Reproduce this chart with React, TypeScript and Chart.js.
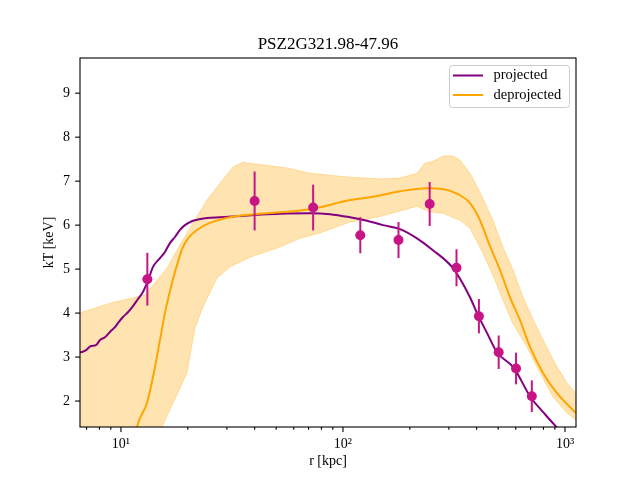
import { useEffect, useRef } from "react";
import { Chart, registerables } from "chart.js";

Chart.register(...registerables);

const TITLE = "PSZ2G321.98-47.96";
const X_TITLE = "r [kpc]";
const Y_TITLE = "kT [keV]";
const SERIES_NAMES = ["projected", "deprojected"];

// axis ranges and ticks
const X_MIN = 6.54;
const X_MAX = 1121;
const Y_MIN = 1.41;
const Y_MAX = 9.8;
const xMajorTicks = [10, 100, 1000];
const xTickLabels = ["10\u00B9", "10\u00B2", "10\u00B3"];
const yTicks = [2, 3, 4, 5, 6, 7, 8, 9];

// measured temperatures (keV) with symmetric errors
const obsR = [13.15, 40.0, 73.4, 119.7, 177.9, 245.8, 324.6, 409.5, 502.8, 602, 709];
const obsT = [4.77, 6.55, 6.4, 5.77, 5.66, 6.48, 5.03, 3.93, 3.11, 2.74, 2.11];
const obsErr = [0.6, 0.67, 0.52, 0.41, 0.41, 0.5, 0.42, 0.39, 0.38, 0.36, 0.36];

// projected model profile
const projR = [6.4, 6.6, 6.96, 7.33, 7.72, 8.05, 8.47, 8.92, 9.4, 9.69, 10.21, 10.75, 11.33, 11.93, 12.56, 13.23, 13.94, 14.99, 15.78, 16.62, 17.51, 18.44, 19.42, 20.46, 21.54, 24.4, 27.92, 34.36, 40.15, 52.0, 71.0, 87.4, 107.5, 128.3, 151.4, 180.6, 215.4, 254.3, 313.0, 373.4, 401.5, 445.3, 493.9, 589.3, 695.6, 812.7, 949.5];
const projT = [3.11, 3.11, 3.16, 3.25, 3.27, 3.39, 3.45, 3.57, 3.68, 3.77, 3.91, 4.02, 4.16, 4.32, 4.48, 4.73, 5.05, 5.25, 5.39, 5.59, 5.73, 5.89, 6.0, 6.07, 6.11, 6.16, 6.18, 6.21, 6.23, 6.26, 6.27, 6.25, 6.18, 6.1, 6.0, 5.91, 5.7, 5.43, 5.02, 4.36, 4.0, 3.55, 3.11, 2.75, 2.11, 1.7, 1.32];

// deprojected model profile
const deprojR = [11.68, 12.18, 13.09, 14.23, 14.99, 15.78, 16.97, 17.88, 18.83, 20.04, 21.99, 25.17, 30.97, 40.15, 71.0, 107.5, 139.3, 180.6, 239.0, 282.1, 336.5, 373.4, 414.2, 459.5, 509.5, 565.4, 627.1, 695.6, 796.0, 920.5, 1121, 1193];
const deprojT = [1.34, 1.61, 1.95, 2.77, 3.39, 4.0, 4.68, 5.09, 5.45, 5.7, 5.89, 6.05, 6.18, 6.25, 6.36, 6.57, 6.65, 6.77, 6.84, 6.82, 6.68, 6.5, 6.11, 5.52, 4.98, 4.36, 3.84, 3.23, 2.64, 2.18, 1.73, 1.61];

// deprojected uncertainty envelope: upper and lower edges
const bandHiR = [6.4, 9.02, 12.83, 16.11, 18.44, 21.1, 24.4, 27.92, 31.95, 35.44, 40.15, 45.48, 55.95, 71.0, 107.5, 151.4, 180.6, 215.4, 234.1, 254.3, 282.1, 313.0, 336.5, 373.4, 414.2, 474.0, 525.6, 583.3, 646.9, 710.2, 796.0, 901.6, 1021, 1121, 1193];
const bandHiT = [3.99, 4.23, 4.41, 5.02, 5.55, 6.05, 6.57, 6.95, 7.32, 7.43, 7.39, 7.36, 7.3, 7.18, 7.09, 7.05, 7.07, 7.18, 7.41, 7.45, 7.57, 7.57, 7.48, 7.18, 6.75, 6.11, 5.5, 4.98, 4.36, 3.91, 3.39, 2.86, 2.41, 2.18, 2.07];
const bandLoR = [6.4, 14.53, 15.3, 17.15, 19.83, 21.54, 23.41, 27.07, 30.97, 38.12, 52.03, 64.03, 78.77, 107.5, 142.3, 180.6, 215.4, 246.6, 282.1, 336.5, 373.4, 427.2, 483.8, 548.1, 577.2, 674.4, 771.7, 883.0, 1021, 1121, 1193];
const bandLoT = [0.5, 1.0, 1.41, 1.95, 2.64, 3.66, 4.14, 4.8, 5.05, 5.27, 5.5, 5.7, 5.82, 6.07, 6.18, 6.32, 6.43, 6.3, 6.27, 6.11, 5.93, 5.36, 4.75, 4.07, 3.8, 3.23, 2.64, 2.09, 1.73, 1.57, 1.48];

const PURPLE = "#800080";
const ORANGE = "#FFA500";
const POINT_COLOR = "#C71585";
const BAND_COLOR = "rgba(255,165,0,0.3)";
const FONT = '"Liberation Serif", "DejaVu Serif", serif';

const zip = (xs: number[], ys: number[]) => xs.map((x, i) => ({ x, y: ys[i] }));

const decorations = {
  id: "decorations",
  beforeDatasetDraw(chart: any, args: any) {
    if (args.index !== 3) return;
    const { ctx, scales } = chart;
    ctx.save();
    ctx.strokeStyle = POINT_COLOR;
    ctx.lineWidth = 2;
    obsR.forEach((r, i) => {
      const px = scales.x.getPixelForValue(r);
      ctx.beginPath();
      ctx.moveTo(px, scales.y.getPixelForValue(obsT[i] + obsErr[i]));
      ctx.lineTo(px, scales.y.getPixelForValue(obsT[i] - obsErr[i]));
      ctx.stroke();
    });
    ctx.restore();
  },
  afterDatasetsDraw(chart: any) {
    const { ctx, chartArea: a, scales } = chart;
    ctx.save();
    ctx.strokeStyle = "#000";
    ctx.lineWidth = 1.1;
    ctx.strokeRect(a.left, a.top, a.right - a.left, a.bottom - a.top);
    const tick = (x1: number, y1: number, x2: number, y2: number) => {
      ctx.beginPath();
      ctx.moveTo(x1, y1);
      ctx.lineTo(x2, y2);
      ctx.stroke();
    };
    // x ticks: majors at decades, minors at 2..9 of each decade
    for (const d of [1, 10, 100, 1000]) {
      for (let k = 1; k <= 9; k++) {
        const v = k * d;
        if (v < X_MIN || v > X_MAX) continue;
        const px = scales.x.getPixelForValue(v);
        tick(px, a.bottom, px, a.bottom + (k === 1 ? 4.9 : 2.8));
      }
    }
    for (const v of yTicks) {
      const py = scales.y.getPixelForValue(v);
      tick(a.left, py, a.left - 4.9, py);
    }
    ctx.restore();
  },
  afterDraw(chart: any) {
    const { ctx, chartArea: a } = chart;
    const cx = (a.left + a.right) / 2;
    const cy = (a.top + a.bottom) / 2;
    ctx.save();
    ctx.fillStyle = "#000";
    ctx.textAlign = "center";
    ctx.textBaseline = "alphabetic";
    ctx.font = `17px ${FONT}`;
    ctx.fillText(TITLE, cx, 49);
    ctx.font = `14px ${FONT}`;
    ctx.textBaseline = "middle";
    ctx.fillText(X_TITLE, cx, 461);
    ctx.save();
    ctx.translate(49, cy);
    ctx.rotate(-Math.PI / 2);
    ctx.fillText(Y_TITLE, 0, 0);
    ctx.restore();

    // legend
    const bx = a.right - 126.5;
    const by = a.top + 7.5;
    ctx.beginPath();
    ctx.roundRect(bx, by, 120, 42, 3);
    ctx.fillStyle = "rgba(255,255,255,0.8)";
    ctx.fill();
    ctx.strokeStyle = "#cccccc";
    ctx.lineWidth = 1;
    ctx.stroke();
    const colors = [PURPLE, ORANGE];
    SERIES_NAMES.forEach((name, i) => {
      const ly = by + 10 + i * 19.5;
      ctx.strokeStyle = colors[i];
      ctx.lineWidth = 2;
      ctx.beginPath();
      ctx.moveTo(bx + 3.5, ly);
      ctx.lineTo(bx + 33.5, ly);
      ctx.stroke();
      ctx.fillStyle = "#000";
      ctx.textAlign = "left";
      ctx.textBaseline = "middle";
      ctx.font = `14.5px ${FONT}`;
      ctx.fillText(name, bx + 44, ly);
    });
    ctx.restore();
  },
};

export default function App() {
  const canvasRef = useRef<HTMLCanvasElement | null>(null);

  useEffect(() => {
    const canvas = canvasRef.current;
    if (!canvas) return;
    const bandPolygon = [...zip(bandHiR, bandHiT), ...zip(bandLoR, bandLoT).reverse()];
    const chart = new Chart(canvas, {
      type: "scatter",
      data: {
        datasets: [
          {
            label: "band",
            data: bandPolygon,
            showLine: true,
            fill: "shape",
            backgroundColor: BAND_COLOR,
            borderColor: BAND_COLOR,
            borderWidth: 1,
            pointRadius: 0,
            clip: 0,
            order: 4,
          },
          {
            label: SERIES_NAMES[1],
            data: zip(deprojR, deprojT),
            showLine: true,
            cubicInterpolationMode: "monotone",
            borderColor: ORANGE,
            borderWidth: 2,
            pointRadius: 0,
            clip: 0,
            order: 2,
          },
          {
            label: SERIES_NAMES[0],
            data: zip(projR, projT),
            showLine: true,
            cubicInterpolationMode: "monotone",
            borderColor: PURPLE,
            borderWidth: 2,
            pointRadius: 0,
            clip: 0,
            order: 3,
          },
          {
            label: "data",
            data: zip(obsR, obsT),
            showLine: false,
            backgroundColor: POINT_COLOR,
            borderWidth: 0,
            pointRadius: 5,
            order: 1,
          },
        ],
      },
      options: {
        animation: false,
        responsive: false,
        devicePixelRatio: 1,
        layout: { padding: { left: 0, right: 64, top: 58, bottom: 0 } },
        plugins: {
          legend: { display: false },
          tooltip: { enabled: false },
          title: { display: false },
        },
        scales: {
          x: {
            type: "logarithmic",
            min: X_MIN,
            max: X_MAX,
            afterBuildTicks: (s: any) => {
              s.ticks = xMajorTicks.map((v) => ({ value: v, major: true }));
            },
            afterFit: (s: any) => {
              s.height = 53;
            },
            ticks: {
              callback: (_v: any, i: number) => xTickLabels[i],
              font: { family: FONT, size: 14 },
              color: "#000",
              padding: 4,
              maxRotation: 0,
              autoSkip: false,
            },
            grid: { display: true, drawOnChartArea: false, drawTicks: true, tickLength: 5, tickColor: "rgba(0,0,0,0)" },
            border: { display: false },
          },
          y: {
            type: "linear",
            min: Y_MIN,
            max: Y_MAX,
            afterBuildTicks: (s: any) => {
              s.ticks = yTicks.map((v) => ({ value: v }));
            },
            afterFit: (s: any) => {
              s.width = 80;
            },
            ticks: {
              callback: (v: any) => String(v),
              font: { family: FONT, size: 14 },
              color: "#000",
              padding: 5,
            },
            grid: { display: true, drawOnChartArea: false, drawTicks: true, tickLength: 5, tickColor: "rgba(0,0,0,0)" },
            border: { display: false },
          },
        },
      },
      plugins: [decorations],
    } as any);
    return () => chart.destroy();
  }, []);

  return (
    <div style={{ position: "fixed", left: 0, top: 0, width: 640, height: 480, background: "#fff" }}>
      <canvas ref={canvasRef} width={640} height={480} style={{ display: "block" }} />
    </div>
  );
}
